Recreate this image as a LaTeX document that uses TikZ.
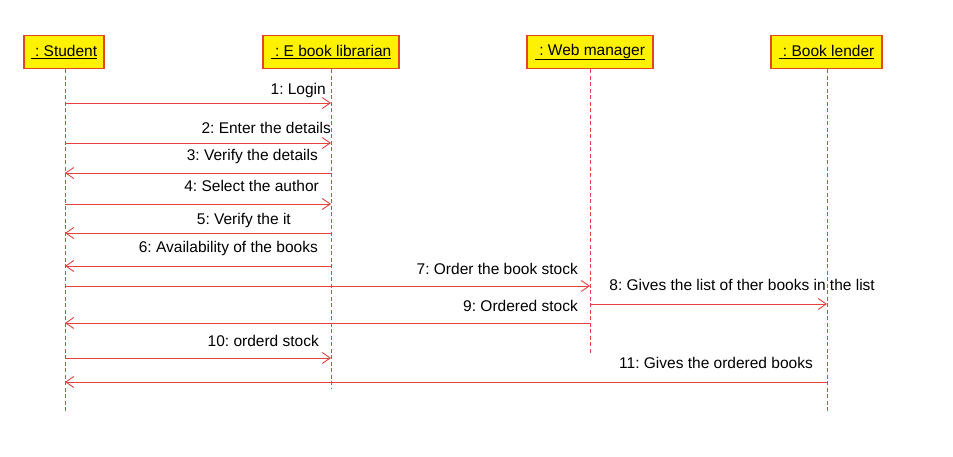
\documentclass[tikz,border=0pt]{standalone}
\usepackage{fontspec}
\setmainfont{Liberation Sans}
\usetikzlibrary{arrows.meta}
\definecolor{lnred}{RGB}{232,64,64}
\definecolor{bxred}{RGB}{224,72,32}
\frenchspacing
\begin{document}
\begin{tikzpicture}[x=1pt,y=-1pt,
  obj/.style={draw=bxred,fill=yellow,line width=1.1pt,minimum height=33pt,inner sep=0pt,font=\fontsize{15.5}{18}\selectfont},
  life/.style={draw=lnred,line width=0.9pt,dash pattern=on 4pt off 2.5pt},
  msg/.style={draw=lnred,line width=0.9pt,-{Straight Barb[length=8pt,width=11pt,line width=0.9pt]}},
  lbl/.style={inner sep=0pt,anchor=base east,font=\fontsize{15.5}{18}\selectfont}]
\useasboundingbox (0,0) rectangle (953,457);
% objects
\node[obj,minimum width=80pt] (stu) at (64,52) {\underline{\ : Student}};
\node[obj,minimum width=136pt] (lib) at (331,52) {\underline{\ : E book librarian}};
\node[obj,minimum width=126pt] (web) at (590,52) {\underline{\ : Web manager}};
\node[obj,minimum width=111pt] (len) at (826.5,52) {\underline{\ : Book lender}};
% lifeline ends
\coordinate (stuE) at (65,412);
\coordinate (libE) at (331,388);
\coordinate (webE) at (590,353);
\coordinate (lenE) at (827,412);
\draw[life] (stu.south -| stuE) -- (stuE);
\draw[life] (lib.south -| libE) -- (libE);
\draw[life] (web.south -| webE) -- (webE);
\draw[life] (len.south -| lenE) -- (lenE);
% messages
\draw[msg] (stuE |- 0,103) -- (libE |- 0,103);
\node[lbl] (m1) at (326,95) {1: Login};
\draw[msg] (stuE |- 0,143) -- (libE |- 0,143);
\node[lbl] (m2) at (331,134) {2: Enter the details};
\draw[msg] (libE |- 0,173) -- (stuE |- 0,173);
\node[lbl] (m3) at (318,160.5) {3: Verify the details};
\draw[msg] (stuE |- 0,204) -- (libE |- 0,204);
\node[lbl] (m4) at (319,192) {4: Select the author};
\draw[msg] (libE |- 0,233) -- (stuE |- 0,233);
\node[lbl] (m5) at (291,225) {5: Verify the it};
\draw[msg] (libE |- 0,266) -- (stuE |- 0,266);
\node[lbl] (m6) at (318,252.5) {6: Availability of the books};
\draw[msg] (stuE |- 0,286) -- (webE |- 0,286);
\node[lbl] (m7) at (578,274) {7: Order the book stock};
\draw[msg] (webE |- 0,304) -- (lenE |- 0,304);
\node[lbl] (m8) at (875,290.5) {8: Gives the list of ther books in the list};
\draw[msg] (webE |- 0,323) -- (stuE |- 0,323);
\node[lbl] (m9) at (578,311) {9: Ordered stock};
\draw[msg] (stuE |- 0,358) -- (libE |- 0,358);
\node[lbl] (m10) at (319,346) {10: orderd stock};
\draw[msg] (lenE |- 0,382) -- (stuE |- 0,382);
\node[lbl] (m11) at (813,368.5) {11: Gives the ordered books};
\end{tikzpicture}
\end{document}
